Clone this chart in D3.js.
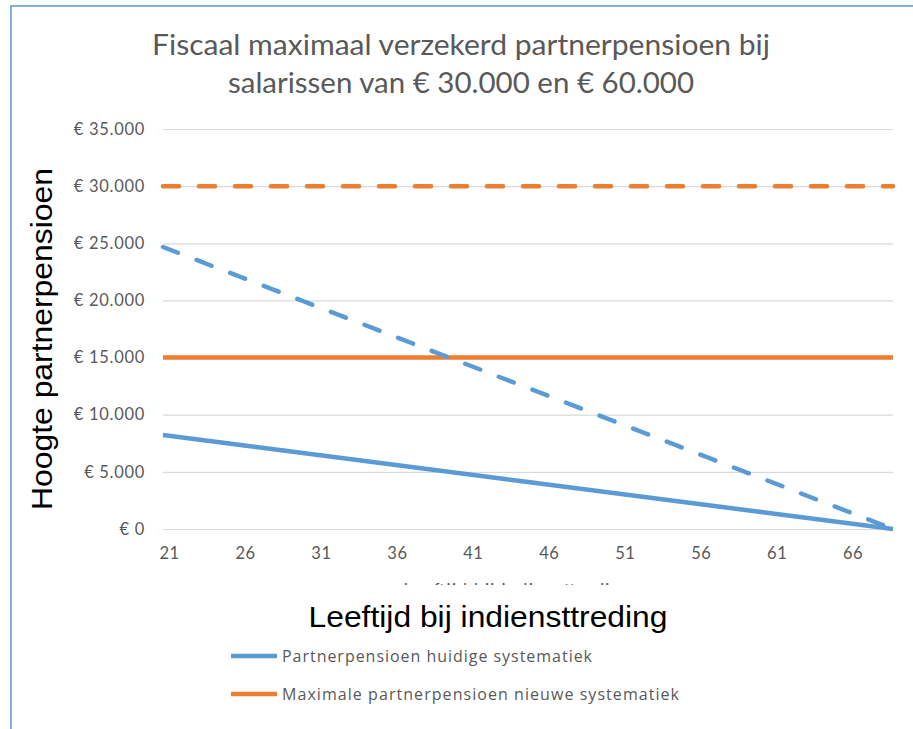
<!DOCTYPE html>
<html>
<head>
<meta charset="utf-8">
<script src="https://cdn.jsdelivr.net/npm/d3@7"></script>
<style>
  body { margin: 0; background: #fff; }
  svg { display: block; }
</style>
</head>
<body>
<svg width="913" height="729"></svg>
<script>
// leeftijd bij indiensttreding (categorieen)
var ages = [21, 22, 23, 24, 25, 26, 27, 28, 29, 30, 31, 32, 33, 34, 35, 36,
  37, 38, 39, 40, 41, 42, 43, 44, 45, 46, 47, 48, 49, 50, 51, 52,
  53, 54, 55, 56, 57, 58, 59, 60, 61, 62, 63, 64, 65, 66, 67, 68];

var xTickLabels = [21, 26, 31, 36, 41, 46, 51, 56, 61, 66];
var yTickValues = [0, 5000, 10000, 15000, 20000, 25000, 30000, 35000];

// huidige systematiek, salaris 30.000 (doorgetrokken) en 60.000 (gestippeld)
var huidig30 = [8225, 8050, 7875, 7700, 7525, 7350, 7175, 7000, 6825, 6650, 6475, 6300,
  6125, 5950, 5775, 5600, 5425, 5250, 5075, 4900, 4725, 4550, 4375, 4200,
  4025, 3850, 3675, 3500, 3325, 3150, 2975, 2800, 2625, 2450, 2275, 2100,
  1925, 1750, 1575, 1400, 1225, 1050, 875, 700, 525, 350, 175, 0];
var huidig60 = [24675, 24150, 23625, 23100, 22575, 22050, 21525, 21000, 20475, 19950, 19425, 18900,
  18375, 17850, 17325, 16800, 16275, 15750, 15225, 14700, 14175, 13650, 13125, 12600,
  12075, 11550, 11025, 10500, 9975, 9450, 8925, 8400, 7875, 7350, 6825, 6300,
  5775, 5250, 4725, 4200, 3675, 3150, 2625, 2100, 1575, 1050, 525, 0];

// nieuwe systematiek: vast maximum
var nieuw30 = [15000, 15000, 15000, 15000, 15000, 15000, 15000, 15000, 15000, 15000, 15000, 15000,
  15000, 15000, 15000, 15000, 15000, 15000, 15000, 15000, 15000, 15000, 15000, 15000,
  15000, 15000, 15000, 15000, 15000, 15000, 15000, 15000, 15000, 15000, 15000, 15000,
  15000, 15000, 15000, 15000, 15000, 15000, 15000, 15000, 15000, 15000, 15000, 15000];
var nieuw60 = [30000, 30000, 30000, 30000, 30000, 30000, 30000, 30000, 30000, 30000, 30000, 30000,
  30000, 30000, 30000, 30000, 30000, 30000, 30000, 30000, 30000, 30000, 30000, 30000,
  30000, 30000, 30000, 30000, 30000, 30000, 30000, 30000, 30000, 30000, 30000, 30000,
  30000, 30000, 30000, 30000, 30000, 30000, 30000, 30000, 30000, 30000, 30000, 30000];

var titleLines = ["Fiscaal maximaal verzekerd partnerpensioen bij", "salarissen van € 30.000 en € 60.000"];
var legendLabels = ["Partnerpensioen huidige systematiek", "Maximale partnerpensioen nieuwe systematiek"];

var BLUE = "#5b9bd5", ORANGE = "#ed7d31", GREY = "#595959";

var svg = d3.select("svg");

// kader (alleen links en boven zichtbaar)
svg.append("path")
    .attr("d", "M11,729V6H913")
    .attr("fill", "none")
    .attr("stroke", "#7fb0e0")
    .attr("stroke-width", 2);

// titel
svg.append("g").selectAll("text")
  .data(titleLines)
  .enter().append("text")
    .attr("x", 461)
    .attr("y", function (d, i) { return 55 + i * 38; })
    .attr("text-anchor", "middle")
    .attr("font-family", "Lato, 'Open Sans', sans-serif")
    .attr("font-size", 29)
    .attr("textLength", function (d, i) { return i === 0 ? 618 : 466; })
    .attr("lengthAdjust", "spacingAndGlyphs")
    .attr("fill", GREY)
    .text(function (d) { return d; });

var x = d3.scalePoint().domain(ages).range([163, 893]);
// de labels van de categorie-as staan iets anders dan de punten
var xLabel = d3.scalePoint().domain(ages).range([169, 883]);
var y = d3.scaleLinear().domain([0, 35000]).range([529, 129]);

var fmt = function (v) {
  return "€ " + (v === 0 ? "0" : d3.format(",")(v).replace(/,/g, "."));
};

// y-as met rasterlijnen
var yAxis = svg.append("g")
  .attr("transform", "translate(163,0)")
  .call(d3.axisLeft(y).tickValues(yTickValues).tickFormat(fmt).tickSize(-730).tickPadding(18));
yAxis.select(".domain").remove();
yAxis.selectAll("line").attr("stroke", "#d9d9d9").attr("stroke-width", 1.2);
yAxis.selectAll("text")
  .attr("font-family", "Lato, sans-serif")
  .attr("font-size", 16.5)
  .attr("letter-spacing", 0.7)
  .attr("fill", GREY);

// x-as
var xAxis = svg.append("g")
  .attr("transform", "translate(0,529)")
  .call(d3.axisBottom(xLabel).tickValues(xTickLabels).tickSize(0).tickPadding(18));
xAxis.select(".domain").remove();
xAxis.selectAll("text")
  .attr("font-family", "Lato, sans-serif")
  .attr("font-size", 16.5)
  .attr("letter-spacing", 0.5)
  .attr("fill", GREY);

// lijnen
var line = d3.line()
  .x(function (d, i) { return x(ages[i]); })
  .y(function (d) { return y(d); });

var series = [
  { values: huidig30, color: BLUE, dash: null },
  { values: nieuw30, color: ORANGE, dash: null },
  { values: huidig60, color: BLUE, dash: "16,20" },
  { values: nieuw60, color: ORANGE, dash: "16,20" }
];

svg.append("g").selectAll("path")
  .data(series)
  .enter().append("path")
    .attr("d", function (d) { return line(d.values); })
    .attr("fill", "none")
    .attr("stroke", function (d) { return d.color; })
    .attr("stroke-width", 4.5)
    .attr("stroke-linecap", function (d) { return d.dash ? "round" : "butt"; })
    .attr("stroke-dasharray", function (d) { return d.dash; });

// oorspronkelijke kleine astitel, grotendeels afgedekt
svg.append("text")
    .attr("x", 517)
    .attr("y", 596)
    .attr("text-anchor", "middle")
    .attr("font-family", "Lato, sans-serif")
    .attr("font-size", 17)
    .attr("textLength", 227)
    .attr("fill", GREY)
    .text("Leeftijd bij indiensttreding");
svg.append("rect")
    .attr("x", 300).attr("y", 585)
    .attr("width", 420).attr("height", 30)
    .attr("fill", "#fff");

// astitels
svg.append("text")
    .attr("x", 488)
    .attr("y", 627)
    .attr("text-anchor", "middle")
    .attr("font-family", "'Liberation Sans', Arial, sans-serif")
    .attr("font-size", 30)
    .attr("textLength", 359)
    .attr("lengthAdjust", "spacingAndGlyphs")
    .attr("fill", "#000")
    .text("Leeftijd bij indiensttreding");

svg.append("text")
    .attr("transform", "translate(52,339) rotate(-90)")
    .attr("text-anchor", "middle")
    .attr("font-family", "'Liberation Sans', Arial, sans-serif")
    .attr("font-size", 30)
    .attr("textLength", 342)
    .attr("lengthAdjust", "spacingAndGlyphs")
    .attr("fill", "#000")
    .text("Hoogte partnerpensioen");

// legenda
var legend = svg.append("g").selectAll("g")
  .data(legendLabels)
  .enter().append("g")
    .attr("transform", function (d, i) { return "translate(231," + (656 + i * 38) + ")"; });

legend.append("line")
    .attr("x1", 0).attr("x2", 46)
    .attr("stroke", function (d, i) { return i === 0 ? BLUE : ORANGE; })
    .attr("stroke-width", 4.5);

legend.append("text")
    .attr("x", 51)
    .attr("y", 5.5)
    .attr("font-family", "'Open Sans', sans-serif")
    .attr("font-size", 16)
    .attr("textLength", function (d, i) { return i === 0 ? 310 : 397; })
    .attr("fill", GREY)
    .text(function (d) { return d; });
</script>
</body>
</html>
